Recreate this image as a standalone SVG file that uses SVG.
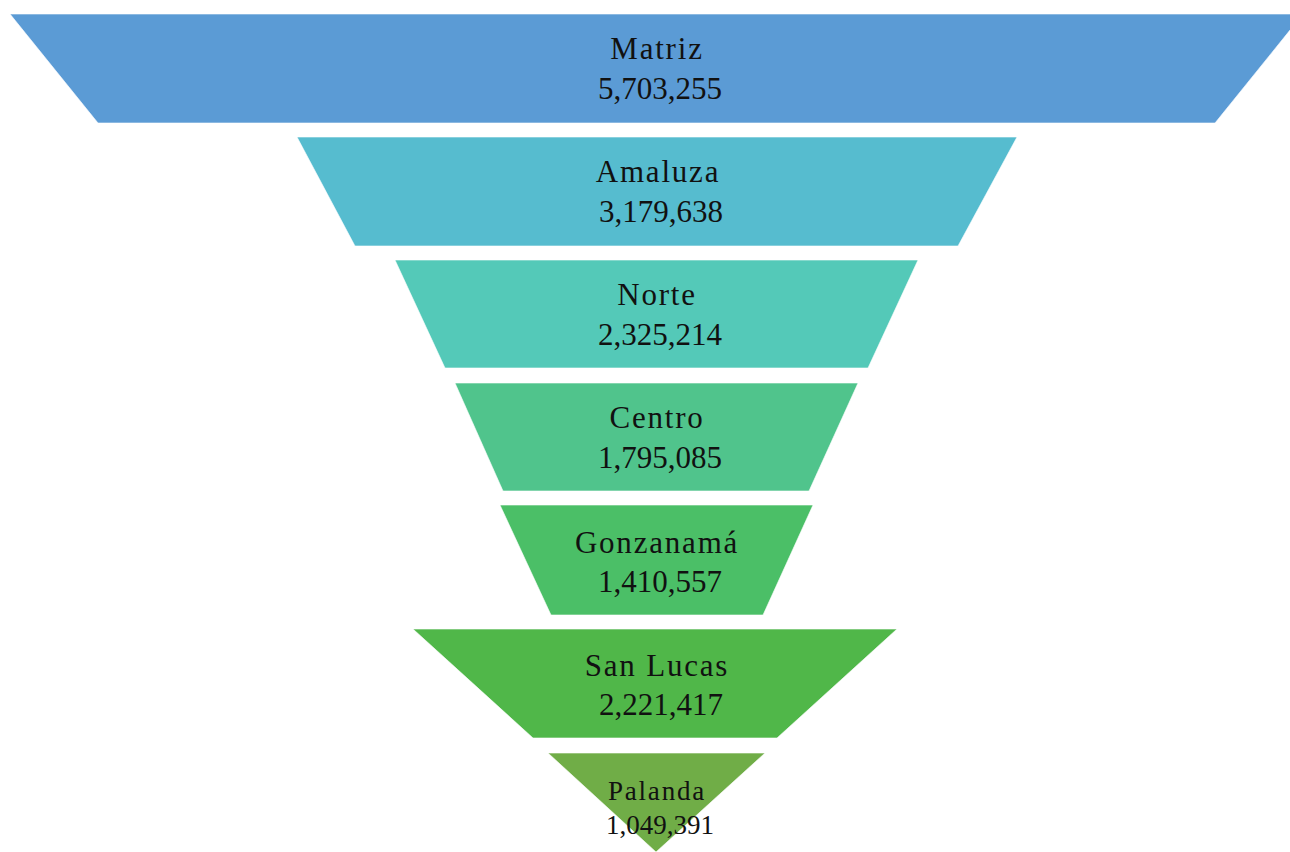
<svg xmlns="http://www.w3.org/2000/svg" width="1290" height="852" viewBox="0 0 1290 852">
<style>
.seg{stroke:#ffffff;stroke-width:1;stroke-opacity:0.6}
.nm{font-family:"Liberation Serif","Times New Roman",serif;font-size:31px;letter-spacing:1.8px;fill:#111;text-anchor:middle}
.val{font-family:"Liberation Serif","Times New Roman",serif;font-size:31px;fill:#111;text-anchor:middle}
.sm{font-size:27px}
</style>
<rect width="1290" height="852" fill="#ffffff"/>
<g id="matriz">
<polygon class="seg" fill="#5B9BD5" points="10,14 1303,14 1215,123 98,123"/>
<text class="nm" x="657" y="59">Matriz</text>
<text class="val" x="660" y="99">5,703,255</text>
</g>
<g id="amaluza">
<polygon class="seg" fill="#56BCCF" points="297,137 1017,137 958,246 355,246"/>
<text class="nm" x="658" y="182">Amaluza</text>
<text class="val" x="661" y="222">3,179,638</text>
</g>
<g id="norte">
<polygon class="seg" fill="#54C9B8" points="395,260 918,260 868,368 445,368"/>
<text class="nm" x="657" y="305">Norte</text>
<text class="val" x="660" y="345">2,325,214</text>
</g>
<g id="centro">
<polygon class="seg" fill="#50C48C" points="455,383 858,383 809,491 503,491"/>
<text class="nm" x="657" y="428">Centro</text>
<text class="val" x="660" y="468">1,795,085</text>
</g>
<g id="gonzanama">
<polygon class="seg" fill="#4BBF67" points="500,505 813,505 763,615 551,615"/>
<text class="nm" x="657" y="553">Gonzanamá</text>
<text class="val" x="660" y="592">1,410,557</text>
</g>
<g id="sanlucas">
<polygon class="seg" fill="#50B749" points="413,629 897,629 777,738 533,738"/>
<text class="nm" x="657" y="676">San Lucas</text>
<text class="val" x="661" y="715">2,221,417</text>
</g>
<g id="palanda">
<polygon class="seg" fill="#70AD47" points="548,753 765,753 656,852"/>
<text class="nm sm" x="657" y="800">Palanda</text>
<text class="val sm" x="660" y="834">1,049,391</text>
</g>
<g id="connectors"></g>
</svg>
